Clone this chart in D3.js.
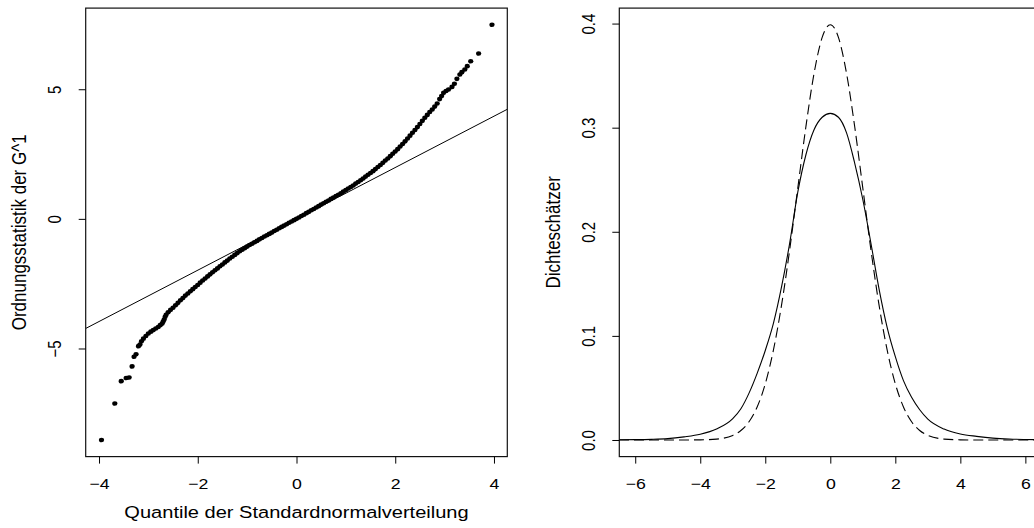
<!DOCTYPE html>
<html><head><meta charset="utf-8">
<script src="https://cdn.jsdelivr.net/npm/d3@7"></script>
<style>
body{margin:0;background:#fff}
svg{display:block}
text{font-family:"Liberation Sans",Arial,Helvetica,sans-serif;fill:#000}
</style>
</head><body>
<svg id="c" width="1034" height="528"></svg>
<script>
// ---------- data ----------
const qqTheo = [-3.95,-3.68,-3.55,-3.45,-3.39,-3.33,-3.29,-3.25,-3.20,-3.17,-3.14,
-3.10,-3.05,-3.00,-2.95,-2.90,-2.85,-2.80,-2.76,-2.72,-2.70,-2.68,-2.66,-2.64,-2.60,-2.55,-2.50,-2.45,-2.40,-2.35,-2.30,-2.25,-2.20,-2.15,-2.10,-2.05,-2.00,
-1.95,-1.90,-1.85,-1.80,-1.75,-1.70,-1.65,-1.60,-1.55,-1.50,-1.45,-1.40,-1.35,-1.30,-1.25,-1.20,-1.15,-1.10,-1.05,-1.00,
-0.95,-0.90,-0.85,-0.80,-0.75,-0.70,-0.65,-0.60,-0.55,-0.50,-0.45,-0.40,-0.35,-0.30,-0.25,-0.20,-0.15,-0.10,-0.05,0.00,
0.05,0.10,0.15,0.20,0.25,0.30,0.35,0.40,0.45,0.50,0.55,0.60,0.65,0.70,0.75,0.80,0.85,0.90,0.95,1.00,
1.05,1.10,1.15,1.20,1.25,1.30,1.35,1.40,1.45,1.50,1.55,1.60,1.65,1.70,1.75,1.80,1.85,1.90,1.95,2.00,
2.05,2.10,2.15,2.20,2.25,2.30,2.35,2.40,2.45,2.50,2.55,2.60,2.65,2.70,2.75,2.80,2.85,2.90,2.94,2.98,
3.03,3.08,3.15,3.20,3.25,3.31,3.35,3.41,3.46,3.53,3.69,3.96];
const qqSample = [-8.53,-7.12,-6.26,-6.14,-6.12,-5.69,-5.32,-5.22,-4.91,-4.85,-4.72,
-4.62,-4.52,-4.42,-4.35,-4.29,-4.23,-4.17,-4.10,-4.04,-3.96,-3.88,-3.78,-3.70,-3.60,-3.51,-3.43,-3.33,-3.24,-3.14,-3.05,-2.96,-2.88,-2.79,-2.71,-2.63,-2.55,
-2.46,-2.38,-2.30,-2.22,-2.14,-2.06,-1.98,-1.91,-1.83,-1.76,-1.68,-1.61,-1.53,-1.46,-1.39,-1.32,-1.25,-1.19,-1.13,-1.07,
-1.01,-0.96,-0.90,-0.85,-0.79,-0.74,-0.68,-0.63,-0.58,-0.53,-0.47,-0.42,-0.36,-0.31,-0.26,-0.21,-0.15,-0.10,-0.05,0.00,
0.05,0.11,0.16,0.22,0.27,0.33,0.38,0.44,0.49,0.55,0.60,0.66,0.71,0.77,0.82,0.88,0.93,0.99,1.05,1.11,
1.17,1.23,1.29,1.36,1.42,1.49,1.56,1.63,1.70,1.77,1.84,1.92,2.00,2.08,2.16,2.25,2.33,2.42,2.51,2.60,
2.69,2.79,2.89,2.99,3.10,3.21,3.32,3.43,3.54,3.66,3.78,3.90,4.01,4.12,4.22,4.33,4.45,4.62,4.74,4.86,
4.93,4.99,5.09,5.21,5.40,5.57,5.66,5.76,5.89,6.08,6.38,7.49];
const qqLineSlope = 0.99, qqLineIntercept = 0.0;
const qqXTicks = [-4,-2,0,2,4];
const qqYTicks = [-5,0,5];
const qqXLabel = "Quantile der Standardnormalverteilung";
const qqYLabel = "Ordnungsstatistik der G^1";

const densX = [-6.5,-6,-5.5,-5,-4.5,-4,-3.5,-3,-2.75,-2.5,-2.25,-2,-1.75,-1.5,-1.25,-1,-0.75,-0.5,-0.25,0,
0.25,0.5,0.75,1,1.25,1.5,1.75,2,2.25,2.5,2.75,3,3.5,4,4.5,5,5.5,6,6.5];
const densKernel = [0.0002,0.0003,0.0006,0.0013,0.0030,0.0055,0.0105,0.0205,0.030,0.045,0.064,0.086,0.112,0.147,0.189,0.238,0.274,0.298,0.310,0.3137,
0.310,0.295,0.266,0.231,0.189,0.145,0.108,0.080,0.057,0.041,0.029,0.020,0.0105,0.0058,0.0035,0.0018,0.0009,0.0005,0.0003];
const densNormal = [0,0,0,0,0.00002,0.00013,0.00087,0.0044,0.0091,0.0175,0.0317,0.054,0.0863,0.1295,0.1826,0.242,0.3011,0.3521,0.3867,0.3989,
0.3867,0.3521,0.3011,0.242,0.1826,0.1295,0.0863,0.054,0.0317,0.0175,0.0091,0.0044,0.00087,0.00013,0.00002,0,0,0,0];
const densXTicks = [-6,-4,-2,0,2,4,6];
const densYTicks = [0,0.1,0.2,0.3,0.4];
const densYLabel = "Dichteschätzer";

// ---------- layout ----------
const svg = d3.select("#c");
const TICK_FS = 15, TITLE_FS = 17, SX = 1.18;   // text is drawn slightly wide, as in the reference
const yTop = 8.1, yBot = 456.6;
const minus = s => s.replace("-", "\u2212");

function panel(x0, x1, xDom, yDom) {
  const x = d3.scaleLinear().domain(xDom).range([x0, x1]);
  const y = d3.scaleLinear().domain(yDom).range([yBot, yTop]);
  return {x, y};
}

function axes(p, xTicks, yTicks, yFmt) {
  const gx = svg.append("g").attr("transform", `translate(0,${yBot})`)
    .call(d3.axisBottom(p.x).tickValues(xTicks).tickSize(7).tickFormat(d => minus(String(d))));
  gx.select(".domain").remove();
  gx.selectAll("line").attr("stroke", "#000").attr("stroke-width", 1);
  gx.selectAll("text").attr("y", 0).attr("dy", 0).attr("font-size", TICK_FS).attr("font-family", null)
    .attr("transform", `translate(0,32) scale(${SX},1)`);

  const x0 = p.x.range()[0];
  const gy = svg.append("g").attr("transform", `translate(${x0},0)`)
    .call(d3.axisLeft(p.y).tickValues(yTicks).tickSize(7).tickFormat(d => minus(yFmt(d))));
  gy.select(".domain").remove();
  gy.selectAll("line").attr("stroke", "#000").attr("stroke-width", 1);
  gy.selectAll("text").attr("x", null).attr("dy", 0).attr("font-size", TICK_FS).attr("font-family", null)
    .attr("text-anchor", "middle").attr("transform", `translate(-24.5,0) scale(${SX},1) rotate(-90)`);
}

function box(p) {
  const [x0, x1] = p.x.range();
  svg.append("rect").attr("x", x0).attr("y", yTop).attr("width", x1 - x0).attr("height", yBot - yTop)
    .attr("fill", "none").attr("stroke", "#111").attr("stroke-width", 1.2);
}

// ---------- left panel: QQ plot ----------
const L = panel(85.7, 507.3, [-4.27, 4.27], [-9.17, 8.13]);
const qqData = qqTheo.map((t, i) => ({t, s: qqSample[i]}));
svg.append("clipPath").attr("id", "clipL").append("rect")
  .attr("x", 85.7).attr("y", yTop).attr("width", 507.3 - 85.7).attr("height", yBot - yTop);
svg.append("line").attr("clip-path", "url(#clipL)")
  .attr("x1", L.x(-4.27)).attr("y1", L.y(qqLineIntercept + qqLineSlope * -4.27))
  .attr("x2", L.x(4.27)).attr("y2", L.y(qqLineIntercept + qqLineSlope * 4.27))
  .attr("stroke", "#000").attr("stroke-width", 1);
svg.append("g").selectAll("ellipse").data(qqData).join("ellipse")
  .attr("cx", d => L.x(d.t)).attr("cy", d => L.y(d.s)).attr("rx", 2.6).attr("ry", 2.3).attr("fill", "#000");
box(L);
axes(L, qqXTicks, qqYTicks, d => String(d));
svg.append("text").attr("text-anchor", "middle").attr("font-size", TITLE_FS)
  .attr("transform", `translate(${L.x(0)},518) scale(${SX},1)`).text(qqXLabel);
svg.append("text").attr("text-anchor", "middle").attr("font-size", TITLE_FS)
  .attr("transform", `translate(25.7,${(yTop + yBot) / 2}) scale(${SX},1) rotate(-90)`).text(qqYLabel);

// ---------- right panel: densities ----------
const R = panel(619.3, 1041.3, [-6.49, 6.49], [-0.01596, 0.41486]);
const kd = densX.map((x, i) => ({x, y: densKernel[i]}));
const nd = densX.map((x, i) => ({x, y: densNormal[i]}));
const line = d3.line().x(d => R.x(d.x)).y(d => R.y(d.y)).curve(d3.curveMonotoneX);
svg.append("path").attr("d", line(kd)).attr("fill", "none").attr("stroke", "#000").attr("stroke-width", 1.1);
svg.append("path").attr("d", line(nd)).attr("fill", "none").attr("stroke", "#000").attr("stroke-width", 1.1)
  .attr("stroke-dasharray", "10,5");
box(R);
axes(R, densXTicks, densYTicks, d3.format(".1f"));
svg.append("text").attr("text-anchor", "middle").attr("font-size", TITLE_FS)
  .attr("transform", `translate(560,${(yTop + yBot) / 2}) scale(${SX},1) rotate(-90)`).text(densYLabel);
</script>
</body></html>
